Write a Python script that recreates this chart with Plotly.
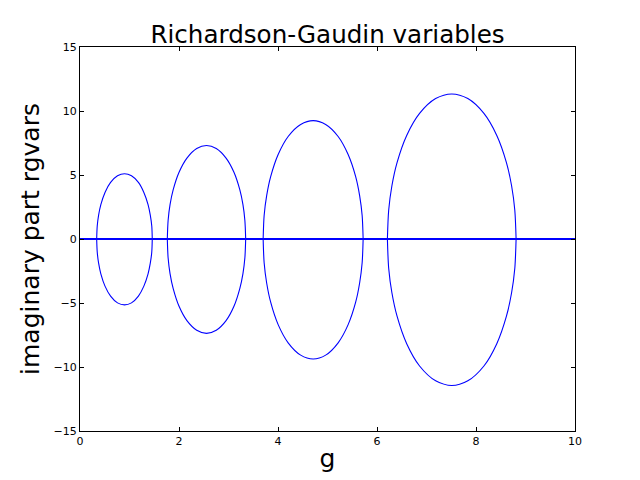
import plotly.graph_objects as go

LINE_BLUE = "#0000ff"
FONT = "DejaVu Sans, sans-serif"

# g values and imaginary parts, one loop per pair of complex variables
loop1_g = [0.337, 0.348, 0.376, 0.421, 0.505, 0.618, 0.758, 0.90, 1.04, 1.18, 1.29, 1.375, 1.42, 1.45, 1.46]
loop1_upper = [0, 1.01, 1.87, 2.69, 3.64, 4.42, 4.94, 5.10, 4.94, 4.42, 3.64, 2.69, 1.87, 1.01, 0]
loop1_lower = [0, -1.02, -1.89, -2.72, -3.68, -4.46, -4.99, -5.15, -4.99, -4.46, -3.68, -2.72, -1.89, -1.02, 0]

loop2_g = [1.764, 1.780, 1.819, 1.883, 2.001, 2.160, 2.358, 2.556, 2.753, 2.951, 3.110, 3.228, 3.292, 3.331, 3.347]
loop2_upper = [0, 1.45, 2.68, 3.85, 5.21, 6.32, 7.07, 7.30, 7.07, 6.32, 5.21, 3.85, 2.68, 1.45, 0]
loop2_lower = [0, -1.47, -2.70, -3.88, -5.26, -6.38, -7.13, -7.37, -7.13, -6.38, -5.26, -3.88, -2.70, -1.47, 0]

loop3_g = [3.70, 3.72, 3.771, 3.852, 4.003, 4.205, 4.458, 4.71, 4.963, 5.215, 5.417, 5.569, 5.649, 5.70, 5.72]
loop3_upper = [0, 1.84, 3.39, 4.87, 6.60, 8.01, 8.95, 9.25, 8.95, 8.01, 6.60, 4.87, 3.39, 1.84, 0]
loop3_lower = [0, -1.86, -3.44, -4.94, -6.69, -8.11, -9.07, -9.37, -9.07, -8.11, -6.69, -4.94, -3.44, -1.86, 0]

loop4_g = [6.21, 6.236, 6.301, 6.405, 6.60, 6.86, 7.185, 7.51, 7.835, 8.16, 8.42, 8.615, 8.719, 8.784, 8.81]
loop4_upper = [0, 2.25, 4.16, 5.97, 8.09, 9.81, 10.97, 11.33, 10.97, 9.81, 8.09, 5.97, 4.16, 2.25, 0]
loop4_lower = [0, -2.28, -4.20, -6.03, -8.18, -9.92, -11.08, -11.45, -11.08, -9.92, -8.18, -6.03, -4.20, -2.28, 0]

# real variables: imaginary part stays zero over the whole g range
real_g = [0, 10]
real_imag = [0, 0]

loops = [
    (loop1_g, loop1_upper, loop1_lower),
    (loop2_g, loop2_upper, loop2_lower),
    (loop3_g, loop3_upper, loop3_lower),
    (loop4_g, loop4_upper, loop4_lower),
]

fig = go.Figure()
for g_vals, upper, lower in loops:
    for branch in (upper, lower):
        fig.add_trace(
            go.Scatter(
                x=g_vals,
                y=branch,
                mode="lines",
                line=dict(color=LINE_BLUE, width=1.1, shape="spline", smoothing=0.8),
                showlegend=False,
                hoverinfo="skip",
            )
        )

fig.add_trace(
    go.Scatter(
        x=real_g,
        y=real_imag,
        mode="lines",
        line=dict(color=LINE_BLUE, width=2),
        showlegend=False,
    )
)

axis_style = dict(
    showgrid=False,
    zeroline=False,
    showline=True,
    linecolor="black",
    linewidth=1,
    mirror="ticks",
    ticks="inside",
    ticklen=4,
    tickcolor="black",
    tickfont=dict(family=FONT, size=11, color="black"),
    title_font=dict(family=FONT, size=25, color="black"),
)

fig.update_xaxes(range=[0, 10], tickvals=[0, 2, 4, 6, 8, 10], title_text="g", title_standoff=2, **axis_style)
fig.update_yaxes(
    range=[-15, 15],
    tickvals=[-15, -10, -5, 0, 5, 10, 15],
    title_text="imaginary part rgvars",
    title_standoff=6,
    **axis_style,
)

# the page body adds an 8px offset, so the figure is 632x472 and margins are shifted by 8
fig.update_layout(
    width=632,
    height=472,
    margin=dict(l=72, r=65, t=39, b=49, autoexpand=False),
    paper_bgcolor="white",
    plot_bgcolor="white",
    title=dict(
        text="Richardson-Gaudin variables",
        x=(72 + 567) / 2 / 632,
        xanchor="center",
        y=1 - 26 / 472,
        yanchor="middle",
        font=dict(family=FONT, size=24.6, color="black"),
    ),
)

fig.write_html("out.html")
